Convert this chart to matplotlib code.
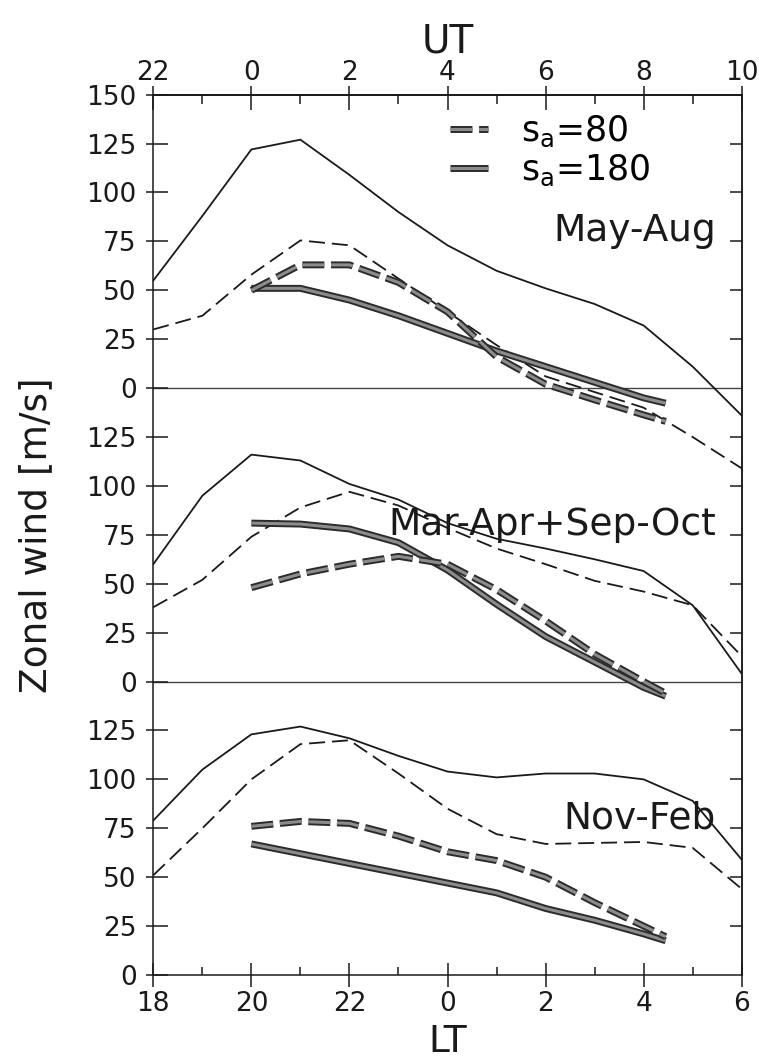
import matplotlib
matplotlib.use('Agg')
import matplotlib.pyplot as plt
import matplotlib.patheffects as pe
from matplotlib.lines import Line2D
from matplotlib.ticker import FixedLocator, NullFormatter

plt.rcParams['lines.scale_dashes'] = False
plt.rcParams['font.family'] = ['DejaVu Sans']

# ---------------- data ----------------
lt_obs = [18, 19, 20, 21, 22, 23, 24, 25, 26, 27, 28, 29, 30]
lt_mod = [20, 21, 22, 23, 24, 25, 26, 27, 28, 28.45]

panel_names = ['May-Aug', 'Mar-Apr+Sep-Oct', 'Nov-Feb']

may_obs_solid = [55, 88, 122, 127, 109, 90, 73, 60, 51, 43, 32, 11, -14]
may_obs_dash = [30, 37, 58, 75.5, 73, 56, 39, 22, 6, -2, -10, -25, -41]
may_mod80 = [50, 63, 63, 54, 39, 16, 2, -6, -13.7, -17]
may_mod180 = [51, 51, 45, 37, 28, 19, 11, 3, -5, -7.7]

eq_obs_solid = [60, 95, 116, 113, 101, 93, 81, 73, 68, 62.5, 56.5, 39, 4]
eq_obs_dash = [38, 52, 74, 89, 97, 90, 78.5, 68, 60, 51.5, 46, 39, 13]
eq_mod80 = [48, 55, 60, 64, 60, 47, 31, 14, 0, -6]
eq_mod180 = [81, 80.5, 78, 71, 57, 39.5, 23, 10, -3, -7.5]

nf_obs_solid = [79, 105, 123, 127, 121, 112, 104, 101, 103, 103, 100, 89, 59]
nf_obs_dash = [51, 75, 100, 118, 120, 103, 85, 72, 67, 67.5, 68, 65, 44]
nf_mod80 = [76, 78.5, 77.5, 71, 63, 58.5, 50, 37, 25, 19.6]
nf_mod180 = [67, 62, 57, 52, 47, 42, 34, 28, 21, 17.5]

lt_major = [18, 20, 22, 24, 26, 28, 30]
lt_minor = [19, 21, 23, 25, 27, 29]
lt_labels = ['18', '20', '22', '0', '2', '4', '6']
ut_labels = ['22', '0', '2', '4', '6', '8', '10']
wind_ticks = [0, 25, 50, 75, 100, 125]
legend_labels = [r'$\mathregular{s_a}$=80', r'$\mathregular{s_a}$=180']

# ---------------- layout ----------------
offsets = [300, 150, 0]          # vertical stacking of the three panels
panels = [
    (may_obs_solid, may_obs_dash, may_mod80, may_mod180),
    (eq_obs_solid, eq_obs_dash, eq_mod80, eq_mod180),
    (nf_obs_solid, nf_obs_dash, nf_mod80, nf_mod180),
]

INK = '#1a1a1a'
thin = dict(color=INK, lw=1.3)
thin_dash = dict(color=INK, lw=1.3, dashes=(11.5, 5.0))
thick_fx = [pe.Stroke(linewidth=5.0, foreground='#2b2b2b'), pe.Normal()]
thick_solid = dict(color='#8c8c8c', lw=2.2, solid_capstyle='butt', path_effects=thick_fx)
thick_dash = dict(color='#8c8c8c', lw=2.2, dashes=(15.8, 4.8), dash_capstyle='butt',
                  path_effects=thick_fx)

fig = plt.figure(figsize=(7.59, 10.61), dpi=100)
ax = fig.add_axes([0.2020, 0.08106, 0.7752, 0.8297])

for off, (osol, odash, m80, m180) in zip(offsets, panels):
    ax.plot(lt_obs, [v + off for v in osol], **thin)
    ax.plot(lt_obs, [v + off for v in odash], **thin_dash)
    ax.plot(lt_mod, [v + off for v in m180], **thick_solid)
    ax.plot(lt_mod, [v + off for v in m80], **thick_dash)

for off in offsets[:2]:
    ax.axhline(off, color='#444444', lw=1.0, zorder=1)

for off, name in zip(offsets, panel_names):
    ax.text(29.47, off + 75, name, ha='right', va='baseline', fontsize=27, color=INK)

ax.set_xlim(18, 30)
ax.set_ylim(0, 450)

# left ticks
ypos, ylab = [], []
for i, off in enumerate(offsets):
    vals = wind_ticks + ([150] if i == 0 else [])
    for v in vals:
        ypos.append(v + off)
        ylab.append(str(v))
ax.set_yticks(ypos, labels=ylab)
ax.yaxis.set_minor_locator(FixedLocator(ypos))
ax.yaxis.remove_overlapping_locs = False
ax.tick_params(axis='y', which='major', direction='in', length=10.8, width=1.1,
               pad=12, labelsize=19, colors=INK)
ax.tick_params(axis='y', which='minor', direction='out', length=5.4, width=1.1, colors=INK)

# bottom ticks (LT)
ax.set_xticks(lt_major, labels=lt_labels)
ax.xaxis.set_minor_locator(FixedLocator(lt_minor))
ax.tick_params(axis='x', which='major', direction='inout', length=17.5, width=1.1,
               pad=2.7, labelsize=19, colors=INK)
ax.tick_params(axis='x', which='minor', direction='in', length=5.8, width=1.1, colors=INK)
ax.set_xlabel('LT', fontsize=27, labelpad=5, color=INK)

# top ticks (UT)
top = ax.secondary_xaxis('top')
top.set_xticks(lt_major, labels=ut_labels)
top.xaxis.set_minor_locator(FixedLocator(lt_minor))
top.tick_params(which='major', direction='in', length=10.6, width=1.1, pad=6,
                labelsize=19, colors=INK)
top.tick_params(which='minor', direction='in', length=6.3, width=1.1, colors=INK)
top.set_xlabel('UT', fontsize=28, labelpad=6, color=INK)
top2 = ax.secondary_xaxis('top')
top2.set_xticks(lt_major)
top2.xaxis.set_major_formatter(NullFormatter())
top2.tick_params(which='major', direction='out', length=6.3, width=1.1, colors=INK)

# right ticks
rpos = [v + off for off in offsets for v in wind_ticks[1:]]
right = ax.secondary_yaxis('right')
right.set_yticks(rpos)
right.yaxis.set_major_formatter(NullFormatter())
right.tick_params(direction='in', length=8.4, width=1.1, colors=INK)

for a in (ax, top, top2, right):
    for s in a.spines.values():
        s.set_linewidth(1.1)
        s.set_color(INK)

ax.set_ylabel('Zonal wind [m/s]', fontsize=27, color=INK)
ax.yaxis.set_label_coords(-0.169, 0.5)

handles = [Line2D([], [], **thick_dash), Line2D([], [], **thick_solid)]
ax.legend(handles, legend_labels, loc='upper left', bbox_to_anchor=(0.504, 0.978),
          frameon=False, fontsize=25, handlelength=1.1, handletextpad=0.95,
          borderpad=0, borderaxespad=0, labelspacing=0.1)

fig.savefig('out.png', dpi=100)
